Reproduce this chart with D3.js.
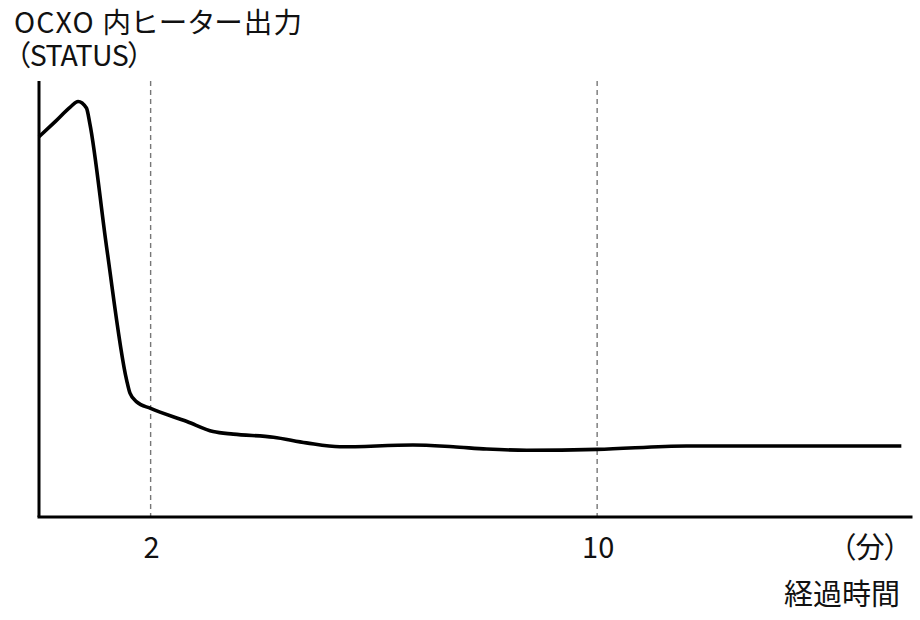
<!DOCTYPE html>
<html>
<head>
<meta charset="utf-8">
<script src="https://cdn.jsdelivr.net/npm/d3@7"></script>
<style>
  body { margin: 0; background: #fff; }
  text { font-family: "Noto Sans CJK JP", "Noto Sans", sans-serif; fill: #111; }
  .palt { font-feature-settings: "palt" 1; }
</style>
</head>
<body>
<div id="chart"></div>
<script>
// elapsed time (minutes) and heater output (relative, 0-100)
const minutes = [0, 0.3, 0.56, 0.7, 0.85, 0.91, 1.21, 1.57, 1.63, 1.75, 2.0, 2.65, 3.12, 3.48, 4.2, 4.79, 5.39, 6.7, 7.42, 8.02, 8.74, 10, 11.6, 15.45];
const output  = [87.2, 90.8, 94.0, 95.3, 93.8, 90.3, 62.0, 31.4, 28.4, 26.4, 24.9, 21.9, 19.6, 19.0, 18.3, 17.0, 16.1, 16.5, 16.1, 15.6, 15.3, 15.5, 16.3, 16.3];
const markers = [2, 10];
const yTitle = ["OCXO 内ヒーター出力", "（STATUS）"];
const xUnit = "（分）";
const xTitle = "経過時間";

const W = 920, H = 620;
const svg = d3.select("#chart").append("svg")
    .attr("width", W).attr("height", H);

const x = d3.scaleLinear().domain([0, 15.65]).range([39, 912.5]);
const y = d3.scaleLinear().domain([0, 100]).range([517, 81]);

// dashed markers
svg.selectAll("line.mark")
    .data(markers)
    .join("line")
    .attr("class", "mark")
    .attr("x1", d => x(d)).attr("x2", d => x(d))
    .attr("y1", y(100)).attr("y2", y(0))
    .attr("stroke", "#777")
    .attr("stroke-width", 1.4)
    .attr("stroke-dasharray", "5,4");

// axes
svg.append("line")
    .attr("x1", x(0)).attr("x2", x(0))
    .attr("y1", y(100)).attr("y2", y(0))
    .attr("stroke", "#000").attr("stroke-width", 3);
svg.append("line")
    .attr("x1", x(0) - 1.5).attr("x2", x(15.65))
    .attr("y1", y(0)).attr("y2", y(0))
    .attr("stroke", "#000").attr("stroke-width", 3);

// curve
const pts = minutes.map((m, i) => [m, output[i]]);
svg.append("path")
    .datum(pts)
    .attr("fill", "none")
    .attr("stroke", "#000")
    .attr("stroke-width", 3.6)
    .attr("stroke-linejoin", "round")
    .attr("d", d3.line()
        .x(d => x(d[0]))
        .y(d => y(d[1]))
        .curve(d3.curveMonotoneX));

// tick labels
svg.selectAll("text.tick")
    .data(markers)
    .join("text")
    .attr("class", "tick")
    .attr("x", d => x(d) + 1)
    .attr("y", 558)
    .attr("text-anchor", "middle")
    .attr("font-size", 29)
    .text(d => d);

svg.append("text")
    .attr("class", "palt")
    .attr("x", 899).attr("y", 558)
    .attr("text-anchor", "end")
    .attr("font-size", 29)
    .text(xUnit);

svg.append("text")
    .attr("x", 900).attr("y", 605)
    .attr("text-anchor", "end")
    .attr("font-size", 29)
    .text(xTitle);

// y title: two lines in one text block
const yt = svg.append("text")
    .attr("class", "palt")
    .attr("y", 33)
    .attr("font-size", 28.5);
yt.selectAll("tspan")
    .data(yTitle)
    .join("tspan")
    .attr("x", (d, i) => i === 0 ? 14 : 16)
    .attr("dy", (d, i) => i === 0 ? 0 : 33)
    .attr("letter-spacing", (d, i) => i === 0 ? 1.2 : -0.6)
    .text(d => d);
</script>
</body>
</html>
